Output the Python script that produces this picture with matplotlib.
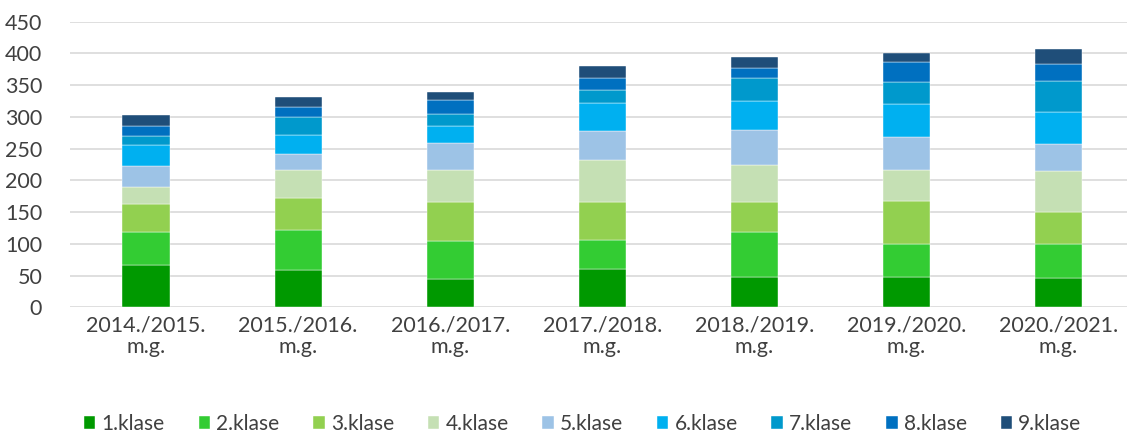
import matplotlib
matplotlib.use("Agg")
import matplotlib.pyplot as plt
import numpy as np

# skolnieku skaits pa klasēm katrā mācību gadā
gadi = ["2014./2015.\nm.g.", "2015./2016.\nm.g.", "2016./2017.\nm.g.", "2017./2018.\nm.g.",
        "2018./2019.\nm.g.", "2019./2020.\nm.g.", "2020./2021.\nm.g."]
klase_1 = [67, 58, 44, 60, 48, 48, 46]
klase_2 = [52, 64, 60, 46, 70, 52, 54]
klase_3 = [43, 50, 62, 60, 48, 68, 50]
klase_4 = [27, 44, 50, 66, 58, 48, 64]
klase_5 = [33, 25, 43, 46, 56, 52, 43]
klase_6 = [34, 31, 27, 44, 45, 53, 50]
klase_7 = [14, 28, 19, 20, 36, 34, 50]
klase_8 = [16, 15, 21, 19, 16, 31, 26]
klase_9 = [17, 17, 14, 19, 17, 14, 24]

klases = [klase_1, klase_2, klase_3, klase_4, klase_5, klase_6, klase_7, klase_8, klase_9]
nosaukumi = ["1.klase", "2.klase", "3.klase", "4.klase", "5.klase",
             "6.klase", "7.klase", "8.klase", "9.klase"]
krasas = ["#009900", "#33CC33", "#92D050", "#C5E0B4", "#9DC3E6",
          "#00B0F0", "#0099CC", "#0070C0", "#1F4E79"]

plt.rcParams['font.family'] = ['Lato', 'DejaVu Sans']

fig = plt.figure(figsize=(11.27, 4.34), dpi=100)
ax = fig.add_axes([70 / 1127, 1 - 307.3 / 434, 1057 / 1127, 285.6 / 434])

x = np.arange(len(gadi))
apaksa = np.zeros(len(gadi))
for vertibas, nosaukums, krasa in zip(klases, nosaukumi, krasas):
    ax.bar(x, vertibas, width=0.31, bottom=apaksa, color=krasa, label=nosaukums,
           edgecolor="white", linewidth=0.3, zorder=3)
    apaksa += np.array(vertibas)

ax.set_ylim(0, 450)
ax.set_xlim(-0.5, 6.45)
ax.set_yticks(range(0, 451, 50))
ax.set_xticks(x)
ax.set_xticklabels(gadi, fontsize=15.5, color="#404040", linespacing=1.1)
ax.tick_params(axis="y", labelsize=15.5, labelcolor="#404040", length=0, pad=20)
ax.tick_params(axis="x", length=0, pad=6)
ax.grid(axis="y", color="#D9D9D9", linewidth=1.2, zorder=0)
for s in ax.spines.values():
    s.set_visible(False)

fig.legend(loc="center", bbox_to_anchor=(0.517, 1 - 424 / 434), ncol=9, frameon=False,
           fontsize=15, handlelength=0.55, handleheight=0.55, handletextpad=0.3,
           columnspacing=1.62, labelcolor="#404040")

fig.savefig("out.png", dpi=100)
